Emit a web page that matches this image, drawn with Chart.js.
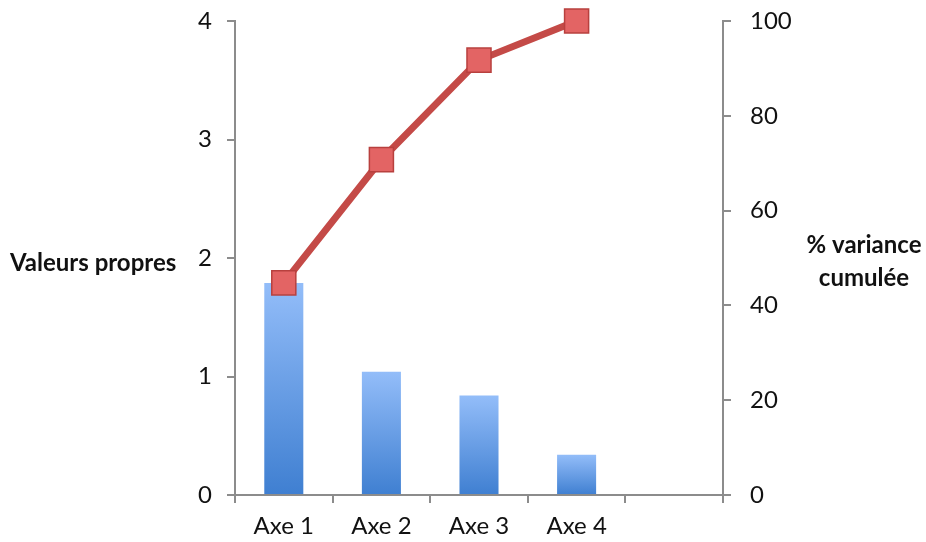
<!DOCTYPE html>
<html>
<head>
<meta charset="utf-8">
<script src="https://cdn.jsdelivr.net/npm/chart.js@4"></script>
<style>
  html, body { margin: 0; padding: 0; background: #fff; }
  #wrap { width: 926px; height: 542px; }
</style>
</head>
<body>
<div id="wrap"><canvas id="mycanvas" width="926" height="542"></canvas></div>
<script>
var categories = ['Axe 1', 'Axe 2', 'Axe 3', 'Axe 4', ''];
var valeursPropres = [1.79, 1.04, 0.84, 0.34, null];
var varianceCumulee = [44.75, 70.75, 91.75, 100, null];
var leftTicks = [0, 1, 2, 3, 4];
var rightTicks = [0, 20, 40, 60, 80, 100];

var font = "Lato, 'Open Sans', sans-serif";

// axis titles written horizontally beside the axes
var axisTitles = {
  id: 'axisTitles',
  afterDraw: function(chart) {
    var ctx = chart.ctx;
    ctx.save();
    ctx.fillStyle = '#111';
    ctx.font = 'bold 24px ' + font;
    ctx.textBaseline = 'middle';
    ctx.textAlign = 'left';
    ctx.fillText('Valeurs propres', 10, 263);
    ctx.textAlign = 'center';
    ctx.fillText('% variance', 864, 245);
    ctx.fillText('cumulée', 864, 278);
    ctx.restore();
  }
};

function barGradient(context) {
  var chart = context.chart;
  var area = chart.chartArea;
  if (!area || context.raw == null) return '#6a9be0';
  var y0 = chart.scales.y.getPixelForValue(0);
  var top = chart.scales.y.getPixelForValue(context.raw);
  var g = chart.ctx.createLinearGradient(0, top, 0, y0);
  g.addColorStop(0, '#93bdf9');
  g.addColorStop(1, '#3f7fd1');
  return g;
}

function fitY(width) {
  return function(scale) {
    scale.width = width;
    scale.paddingTop = 0;
    scale.paddingBottom = 0;
  };
}

var ctx = document.getElementById('mycanvas');

var chart = new Chart(ctx, {
  data: {
    labels: categories,
    datasets: [
      {
        type: 'line',
        label: '% variance cumulée',
        data: varianceCumulee,
        yAxisID: 'y2',
        borderColor: '#c44a47',
        borderWidth: 7,
        pointStyle: 'rect',
        pointRadius: 17,
        pointBackgroundColor: '#e36464',
        pointBorderColor: '#b8403e',
        pointBorderWidth: 1.5,
        clip: false,
        order: 0
      },
      {
        type: 'bar',
        label: 'Valeurs propres',
        data: valeursPropres,
        yAxisID: 'y',
        backgroundColor: barGradient,
        barPercentage: 0.4,
        categoryPercentage: 1,
        order: 1
      }
    ]
  },
  options: {
    responsive: false,
    animation: false,
    layout: { padding: { top: 21 } },
    plugins: {
      legend: { display: false },
      tooltip: { enabled: false }
    },
    scales: {
      x: {
        offset: true,
        grid: { offset: true, drawOnChartArea: false, tickLength: 8, color: '#8c8c8c', lineWidth: 2 },
        border: { color: '#8c8c8c', width: 2 },
        ticks: { color: '#111', font: { family: font, size: 24 }, padding: 9 },
        afterFit: function(scale) { scale.height = 47; }
      },
      y: {
        position: 'left',
        min: 0,
        max: 4,
        afterBuildTicks: function(scale) {
          scale.ticks = leftTicks.map(function(v) { return { value: v }; });
        },
        grid: { drawOnChartArea: false, tickLength: 8, color: '#8c8c8c', lineWidth: 2 },
        border: { color: '#8c8c8c', width: 2 },
        ticks: { color: '#111', font: { family: font, size: 24 }, padding: 15 },
        afterFit: fitY(235)
      },
      y2: {
        position: 'right',
        min: 0,
        max: 100,
        afterBuildTicks: function(scale) {
          scale.ticks = rightTicks.map(function(v) { return { value: v }; });
        },
        grid: { drawOnChartArea: false, tickLength: 8, color: '#8c8c8c', lineWidth: 2 },
        border: { color: '#8c8c8c', width: 2 },
        ticks: { color: '#111', font: { family: font, size: 24 }, padding: 19 },
        afterFit: fitY(203)
      }
    }
  },
  plugins: [axisTitles]
});
</script>
</body>
</html>
